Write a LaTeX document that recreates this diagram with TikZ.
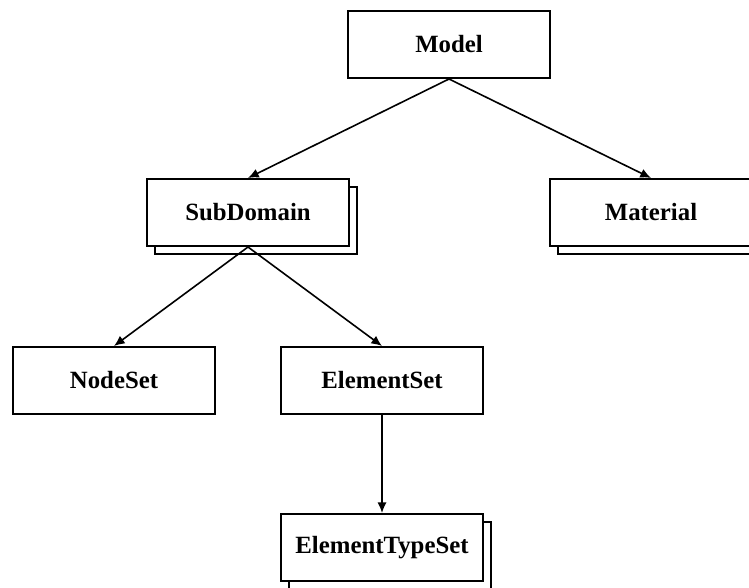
\documentclass[tikz,border=0pt]{standalone}
\usepackage{fontspec}
\setmainfont{Liberation Serif}
\usetikzlibrary{arrows.meta,shadows}

\tikzset{
  classBox/.style={draw=black, fill=white, line width=1.5pt, minimum width=151.5pt,
    minimum height=50.25pt, inner sep=2pt, font=\fontsize{18.6}{22}\selectfont\bfseries},
  setBox/.style={classBox, copy shadow={shadow xshift=6pt, shadow yshift=-6pt, line width=1.5pt}},
  ownsLink/.style={draw=black, line width=1.2pt, -{Latex[length=8pt,width=7pt]}}
}

\begin{document}
\begin{tikzpicture}[x=0.75pt, y=-0.75pt]
  \useasboundingbox (0,0) rectangle (749,588);
  % top level
  \node[classBox] (model) at (449,44.5) {Model};
  % second row
  \node[setBox] (subdomain) at (248,212.5) {SubDomain};
  \node[setBox] (material) at (651,212.5) {Material};
  % third row
  \node[classBox] (nodeset) at (114,380.5) {NodeSet};
  \node[classBox] (elemset) at (382,380.5) {ElementSet};
  % bottom
  \node[setBox] (elemtypes) at (382,547.5) {ElementTypeSet};
  % links
  \draw[ownsLink] (model.south) -- (subdomain.north);
  \draw[ownsLink] (model.south) -- (material.north);
  \draw[ownsLink] (subdomain.south) -- (nodeset.north);
  \draw[ownsLink] (subdomain.south) -- (elemset.north);
  \draw[ownsLink] (elemset.south) -- (elemtypes.north);
\end{tikzpicture}
\end{document}
